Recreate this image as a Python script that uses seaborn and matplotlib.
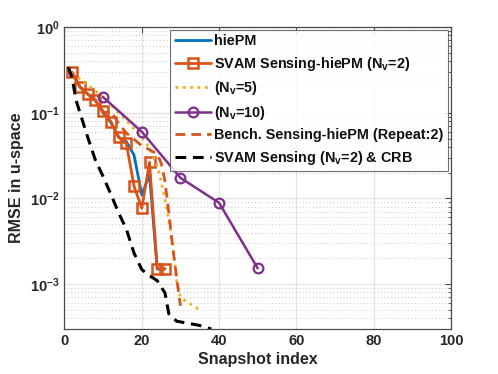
import numpy as np
import pandas as pd
import seaborn as sns
import matplotlib
matplotlib.use("Agg")
import matplotlib.pyplot as plt
from matplotlib.ticker import FixedLocator, FuncFormatter, LogLocator, NullFormatter

# data
x_hiepm = [2, 4, 6, 8, 10, 12, 14, 16, 18, 20, 22, 24, 26]
y_hiepm = [0.29, 0.2, 0.165, 0.14, 0.1, 0.077, 0.052, 0.046, 0.032, 0.011, 0.019, 0.0015, 0.0015]

x_svam2 = [2, 4, 6, 8, 10, 12, 14, 16, 18, 20, 22, 24, 26]
y_svam2 = [0.297, 0.2, 0.166, 0.139, 0.104, 0.079, 0.0516, 0.044, 0.0139, 0.0077, 0.0265, 0.00152, 0.00152]

x_svam5 = [2, 5, 10, 15, 20, 22, 24, 25, 26, 27, 28, 29, 30, 35]
y_svam5 = [0.29, 0.23, 0.152, 0.09, 0.052, 0.039, 0.024, 0.016, 0.0098, 0.0055, 0.003, 0.0011, 0.0007, 0.0005]

x_svam10 = [10, 20, 30, 40, 50]
y_svam10 = [0.152, 0.060, 0.0174, 0.0089, 0.00153]

x_bench = [2, 4, 6, 8, 10, 12, 14, 16, 18, 20, 22, 24, 25, 26, 27, 28, 29, 30]
y_bench = [0.29, 0.2, 0.165, 0.14, 0.1, 0.104, 0.075, 0.058, 0.049, 0.041, 0.037, 0.033, 0.026, 0.016, 0.0068, 0.0027, 0.0012, 0.00056]

x_crb = [1, 2, 3, 4, 6, 8, 10, 12, 14, 16, 18, 20, 22, 24, 26, 27, 29, 35, 38]
y_crb = [0.34, 0.25, 0.14, 0.1, 0.052, 0.028, 0.018, 0.0112, 0.0068, 0.0044, 0.0023, 0.00148, 0.00126, 0.0011, 0.00079, 0.00045, 0.00037, 0.00033, 0.0003]

labels = ['hiePM',
          r'SVAM Sensing-hiePM (N$_\mathbf{v}$=2)',
          r'(N$_\mathbf{v}$=5)',
          r'(N$_\mathbf{v}$=10)',
          'Bench. Sensing-hiePM (Repeat:2)',
          r'SVAM Sensing (N$_\mathbf{v}$=2) & CRB']

sns.set_style("white")
plt.rcParams['font.family'] = ['Liberation Sans', 'DejaVu Sans']
plt.rcParams['font.weight'] = 'bold'
plt.rcParams['mathtext.fontset'] = 'custom'
plt.rcParams['mathtext.rm'] = 'Liberation Sans:bold'
plt.rcParams['mathtext.bf'] = 'Liberation Sans:bold'
plt.rcParams['mathtext.it'] = 'Liberation Sans:bold'

fig = plt.figure(figsize=(4.98, 3.74), dpi=100)
ax = fig.add_axes([0.1295, 0.1203, 0.776, 0.8075])

blue, orange, yellow, purple = '#0072BD', '#D95319', '#EDB120', '#7E2F8E'
dash = (0, (3.5, 2.2))

sns.lineplot(x=x_hiepm, y=y_hiepm, ax=ax, color=blue, lw=2, label=labels[0])
sns.lineplot(x=x_svam2, y=y_svam2, ax=ax, color=orange, lw=2, marker='s', ms=6.5,
             mfc='none', mec=orange, mew=1.8, label=labels[1])
sns.lineplot(x=x_svam5, y=y_svam5, ax=ax, color=yellow, lw=2, ls=':', label=labels[2])
sns.lineplot(x=x_svam10, y=y_svam10, ax=ax, color=purple, lw=1.8, marker='o', ms=7,
             mfc='none', mec=purple, mew=1.6, label=labels[3])
sns.lineplot(x=x_bench, y=y_bench, ax=ax, color=orange, lw=2, ls=dash, label=labels[4])
sns.lineplot(x=x_crb, y=y_crb, ax=ax, color='black', lw=2.2, ls=dash, label=labels[5])

ax.set_yscale('log')
ax.set_xlim(0, 100)
ax.set_ylim(3e-4, 1)
ax.xaxis.set_major_locator(FixedLocator([0, 20, 40, 60, 80, 100]))
ax.yaxis.set_major_locator(FixedLocator([1e-3, 1e-2, 1e-1, 1]))
ax.yaxis.set_minor_locator(LogLocator(base=10, subs=np.arange(2, 10)))
ax.yaxis.set_minor_formatter(NullFormatter())
ax.yaxis.set_major_formatter(FuncFormatter(
    lambda v, p: r'$\mathbf{10^{%d}}$' % int(round(np.log10(v)))))

ax.grid(True, which='major', color='#e3e3e3', lw=0.9, ls='-')
ax.grid(True, which='minor', axis='y', color='#c8c8c8', lw=0.7, ls=(0, (1, 2.5)))
ax.set_axisbelow(True)

for s in ax.spines.values():
    s.set_color('#4a4a4a')
    s.set_linewidth(0.9)
ax.tick_params(which='both', direction='in', top=True, right=True, colors='#4a4a4a',
               labelcolor='#262626', labelsize=10.5)
ax.tick_params(which='major', length=4)
ax.tick_params(which='minor', length=2.5)

ax.set_xlabel('Snapshot index', fontsize=11.5, fontweight='bold', color='#262626', labelpad=3)
ax.set_ylabel('RMSE in u-space', fontsize=11.5, fontweight='bold', color='#262626', labelpad=4)

leg = ax.legend(loc='upper right', fontsize=10.4, frameon=True, fancybox=False,
                borderaxespad=0.2, borderpad=0.3, handlelength=2.5, handletextpad=0.25,
                labelspacing=0.45)
leg.get_frame().set_edgecolor('#4a4a4a')
leg.get_frame().set_linewidth(0.8)
for t in leg.get_texts():
    t.set_color('#111111')

fig.savefig('out.png', dpi=100)
